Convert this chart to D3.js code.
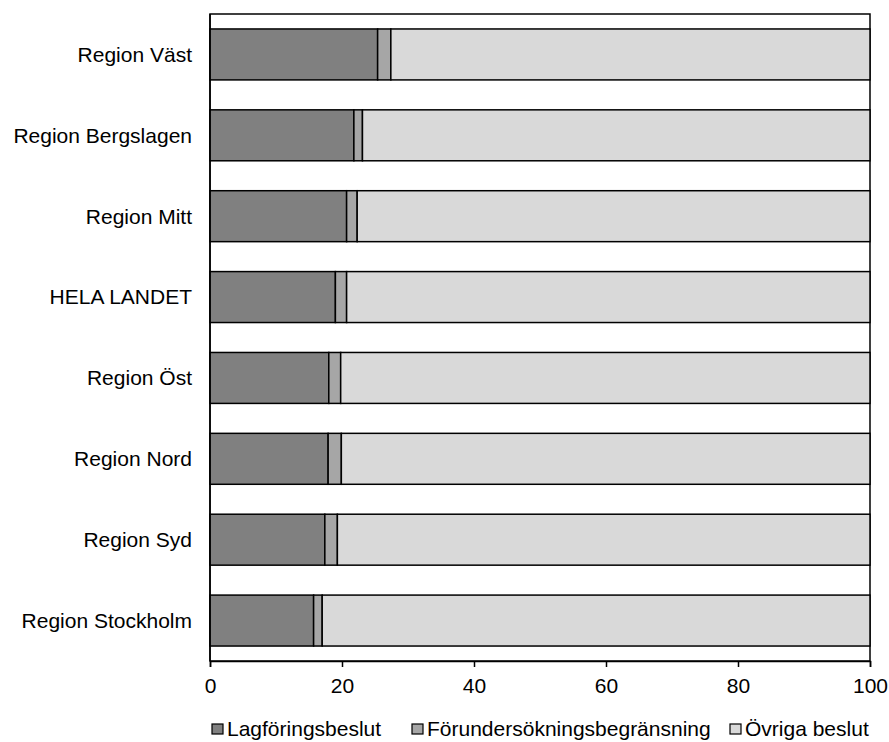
<!DOCTYPE html>
<html>
<head>
<meta charset="utf-8">
<script src="https://cdn.jsdelivr.net/npm/d3@7"></script>
<style>
  body { margin: 0; background: #fff; overflow: hidden; }
  text { font-family: "Liberation Sans", Arial, sans-serif; }
</style>
</head>
<body>
<div id="chart"></div>
<script>
// Data
const regions = ["Region Väst", "Region Bergslagen", "Region Mitt", "HELA LANDET",
  "Region Öst", "Region Nord", "Region Syd", "Region Stockholm"];
const lagforing = [25.4, 21.8, 20.7, 19.0, 18.0, 17.9, 17.4, 15.7];
const forundersokning = [2.0, 1.3, 1.6, 1.7, 1.8, 2.0, 1.9, 1.3];
const seriesNames = ["Lagföringsbeslut", "Förundersökningsbegränsning", "Övriga beslut"];
const xTicks = [0, 20, 40, 60, 80, 100];

const colors = ["#808080", "#a6a6a6", "#d9d9d9"];

const W = 889, H = 742;
const margin = { top: 14, right: 19, bottom: 81, left: 210 };
const width = W - margin.left - margin.right;
const height = H - margin.top - margin.bottom;

const rows = regions.map((r, i) => {
  const a = lagforing[i], b = forundersokning[i];
  return { region: r, vals: [a, b, 100 - a - b] };
});

const svg = d3.select("#chart").append("svg")
  .attr("width", W)
  .attr("height", H)
  .style("display", "block");

const g = svg.append("g")
  .attr("transform", "translate(" + margin.left + "," + margin.top + ")");

const x = d3.scaleLinear().domain([0, 100]).range([0, width]);
const y = d3.scaleBand().domain(regions).range([0, height]).paddingInner(0.37).paddingOuter(0.185);

// plot frame
g.append("rect")
  .attr("x", 0).attr("y", 0)
  .attr("width", width).attr("height", height)
  .attr("fill", "none")
  .attr("stroke", "#000")
  .attr("stroke-width", 1.5);

// bars
rows.forEach(d => {
  let start = 0;
  d.vals.forEach((v, k) => {
    g.append("rect")
      .attr("x", x(start))
      .attr("y", y(d.region))
      .attr("width", x(start + v) - x(start))
      .attr("height", y.bandwidth())
      .attr("fill", colors[k])
      .attr("stroke", "#000")
      .attr("stroke-width", 1.5);
    start += v;
  });
});

// x axis
const xAxis = g.append("g")
  .attr("transform", "translate(0," + height + ")")
  .call(d3.axisBottom(x).tickValues(xTicks).tickSize(6).tickPadding(11));
xAxis.select(".domain").attr("stroke-width", 1.5);
xAxis.selectAll(".tick line").attr("stroke-width", 1.5);
xAxis.selectAll("text").style("font-size", "21px").attr("fill", "#000");

// y axis line and labels
g.append("line")
  .attr("x1", 0).attr("x2", 0)
  .attr("y1", 0).attr("y2", height)
  .attr("stroke", "#000").attr("stroke-width", 1.5);

g.selectAll(".ylab")
  .data(regions)
  .enter().append("text")
  .attr("class", "ylab")
  .attr("x", -18)
  .attr("y", d => y(d) + y.bandwidth() / 2)
  .attr("dy", "0.35em")
  .attr("text-anchor", "end")
  .style("font-size", "21px")
  .text(d => d);

// legend
const legendX = [212, 412, 730];
const legend = svg.selectAll(".legend")
  .data(seriesNames)
  .enter().append("g")
  .attr("class", "legend")
  .attr("transform", (d, i) => "translate(" + legendX[i] + ",729)");

legend.append("rect")
  .attr("x", 0).attr("y", -5)
  .attr("width", 11).attr("height", 10)
  .attr("fill", (d, i) => colors[i])
  .attr("stroke", "#000")
  .attr("stroke-width", 1.2);

legend.append("text")
  .attr("x", 15)
  .attr("y", 7)
  .style("font-size", "21px")
  .text(d => d);
</script>
</body>
</html>
